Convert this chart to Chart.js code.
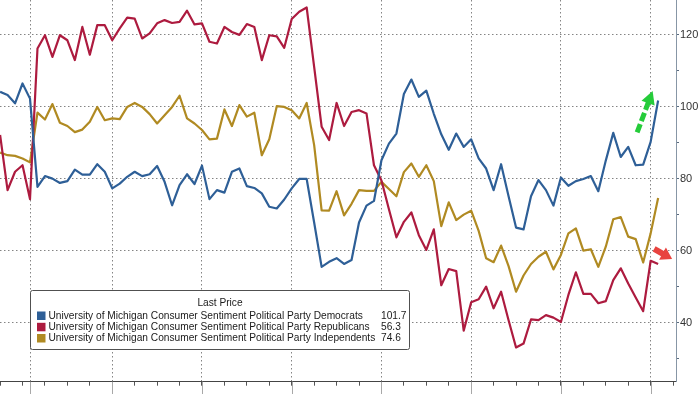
<!DOCTYPE html>
<html>
<head>
<meta charset="utf-8">
<script src="https://cdn.jsdelivr.net/npm/chart.js@4.4.1/dist/chart.umd.min.js"></script>
<style>
  html, body { margin: 0; padding: 0; background: #fff; }
  #wrap { width: 700px; height: 394px; }
</style>
</head>
<body>
<div id="wrap"><canvas id="chart" width="700" height="394"></canvas></div>
<script>
// monthly readings, index 0 = first month on the chart
const democrats = [
  104.1, 103.2, 100.9, 106.4, 102.2, 77.7, 80.7, 80.0, 78.8, 79.3,
  82.5, 81.1, 81.1, 84.0, 81.9, 77.3, 78.6, 80.5, 81.9, 80.7,
  81.2, 83.5, 79.1, 72.6, 78.2, 81.2, 78.5, 83.6, 74.3, 76.8,
  76.1, 81.9, 82.8, 77.9, 77.4, 75.9, 72.2, 71.7, 74.2, 77.3,
  79.9, 79.9, 67.8, 55.5, 56.9, 57.9, 56.3, 57.4, 67.8, 72.5,
  73.8, 85.1, 89.7, 92.5, 103.5, 107.5, 102.7, 104.4, 98.0, 92.3,
  88.0, 92.5, 88.8, 90.9, 85.6, 82.8, 76.8, 84.0, 75.1, 66.4,
  65.9, 75.1, 79.6, 76.8, 72.5, 80.3, 78.0, 79.3, 79.9, 80.7,
  76.5, 85.0, 92.7, 86.0, 88.8, 83.7, 83.9, 90.2, 101.7
];
const republicans = [
  92.1, 76.8, 81.9, 83.7, 74.3, 116.1, 119.8, 113.8, 119.8, 118.4,
  112.9, 122.1, 114.4, 122.6, 122.6, 118.4, 121.7, 124.7, 124.4, 118.9,
  120.3, 123.1, 124.0, 123.2, 123.5, 126.6, 122.8, 123.1, 118.0, 117.5,
  122.1, 120.7, 119.9, 122.9, 122.1, 112.9, 119.8, 119.5, 116.3, 124.3,
  126.3, 127.5, 111.0, 94.4, 90.7, 101.0, 94.6, 98.5, 99.0, 98.1,
  83.7, 79.5, 71.5, 63.7, 68.0, 70.6, 64.3, 60.2, 65.9, 50.4,
  54.9, 54.3, 37.8, 45.7, 46.5, 50.0, 44.0, 48.6, 40.7, 33.1,
  34.2, 40.9, 40.7, 42.1, 41.4, 40.2, 47.7, 54.0, 48.0, 48.0,
  45.4, 46.0, 51.8, 55.1, 50.9, 47.0, 43.2, 57.2, 56.3
];
const independents = [
  87.2, 86.5, 86.3, 85.6, 84.5, 98.3, 96.4, 100.7, 95.5, 94.6,
  92.9, 93.6, 95.8, 99.9, 96.2, 96.7, 96.5, 99.9, 101.0, 99.9,
  97.9, 95.3, 97.6, 99.9, 103.0, 96.7, 95.3, 93.5, 90.9, 91.1,
  99.2, 94.6, 100.4, 97.2, 98.3, 86.5, 90.9, 100.1, 99.9, 99.0,
  96.7, 101.0, 89.3, 71.2, 71.1, 76.5, 69.8, 73.0, 76.8, 76.6,
  76.6, 79.1, 77.1, 75.1, 81.8, 84.2, 80.5, 83.7, 79.3, 66.8,
  73.4, 68.5, 70.0, 71.1, 65.5, 57.9, 56.8, 61.4, 55.7, 48.6,
  53.1, 56.3, 58.3, 59.7, 54.8, 58.8, 64.8, 66.2, 60.0, 60.4,
  55.5, 61.1, 68.7, 69.3, 63.9, 63.2, 56.7, 64.8, 74.6
];

const seriesNames = [
  "University of Michigan Consumer Sentiment Political Party Democrats",
  "University of Michigan Consumer Sentiment Political Party Republicans",
  "University of Michigan Consumer Sentiment Political Party Independents"
];
const lastPrices = ["101.7", "56.3", "74.6"];
const legendTitle = "Last Price";

// x positions (month index) of the yearly separators and quarter ticks
const yearLineIdx = [4, 15, 27, 39, 51, 63, 75, 87];
const quarterIdx = [0, 3, 6, 9, 12, 15, 18, 21, 24, 27, 30, 33, 36, 39, 42, 45,
  48, 51, 54, 57, 60, 63, 66, 69, 72, 75, 78, 81, 84, 87, 90];
const yTicks = [30, 40, 50, 60, 70, 80, 90, 100, 110, 120];
const yLabelled = [40, 60, 80, 100, 120];

const BLUE = '#2e5f97';
const RED = '#ad1b3f';
const GOLD = '#b08a22';
const GRID = 'rgba(110,110,110,0.85)';
const FONT = '"Liberation Sans", Arial, sans-serif';

function toPoints(arr) {
  return arr.map((v, i) => ({ x: i, y: v }));
}

function drawArrow(ctx, x0, y0, x1, y1, color, shaftW, headL, headW, dash) {
  const dx = x1 - x0, dy = y1 - y0;
  const len = Math.hypot(dx, dy);
  const ux = dx / len, uy = dy / len;
  const bx = x1 - ux * headL, by = y1 - uy * headL;
  ctx.save();
  ctx.strokeStyle = color;
  ctx.fillStyle = color;
  ctx.lineWidth = shaftW;
  ctx.setLineDash(dash || []);
  ctx.beginPath();
  ctx.moveTo(x0, y0);
  ctx.lineTo(bx + ux * 1, by + uy * 1);
  ctx.stroke();
  ctx.setLineDash([]);
  ctx.beginPath();
  ctx.moveTo(x1, y1);
  ctx.lineTo(bx - uy * headW / 2, by + ux * headW / 2);
  ctx.lineTo(bx + uy * headW / 2, by - ux * headW / 2);
  ctx.closePath();
  ctx.fill();
  ctx.restore();
}

const overlay = {
  id: 'overlay',
  afterDraw(chart) {
    const { ctx, chartArea: area, scales: { x, y } } = chart;

    // long year separators under the axis
    ctx.save();
    ctx.strokeStyle = '#a8a8a8';
    ctx.lineWidth = 1;
    yearLineIdx.forEach(i => {
      const px = Math.round(x.getPixelForValue(i)) + 0.5;
      ctx.beginPath();
      ctx.moveTo(px, area.bottom);
      ctx.lineTo(px, chart.height);
      ctx.stroke();
    });
    ctx.restore();

    // arrows next to the last points
    const last = democrats.length - 1;
    const gx = x.getPixelForValue(last), gy = y.getPixelForValue(democrats[last]);
    drawArrow(ctx, gx - 21, gy + 32, gx - 5.5, gy - 9.5, '#25cc3a', 5, 13, 14, [9, 3]);
    const rx = x.getPixelForValue(last), ry = y.getPixelForValue(republicans[last]);
    drawArrow(ctx, rx - 4, ry - 15, rx + 14, ry - 5, '#e8433f', 6, 11, 14);

    // legend box
    const L = 30.5, T = 290.5, R = 409.5, B = 349.5;
    ctx.save();
    ctx.fillStyle = '#ffffff';
    ctx.strokeStyle = '#505050';
    ctx.lineWidth = 1;
    ctx.beginPath();
    ctx.roundRect(L, T, R - L, B - T, 2);
    ctx.fill();
    ctx.stroke();

    ctx.font = '10px ' + FONT;
    let fs = 10 * 327 / ctx.measureText(seriesNames[2]).width;
    ctx.font = fs.toFixed(2) + 'px ' + FONT;
    ctx.fillStyle = '#1a1a1a';
    ctx.textBaseline = 'middle';
    ctx.textAlign = 'center';
    ctx.fillText(legendTitle, (L + R) / 2, 303.5);
    ctx.textAlign = 'left';
    const rowsY = [316, 327.3, 338.5];
    const cols = [BLUE, RED, GOLD];
    rowsY.forEach((ry2, k) => {
      ctx.fillStyle = cols[k];
      ctx.fillRect(37, ry2 - 4.5, 8.5, 8.5);
      ctx.fillStyle = '#1a1a1a';
      ctx.fillText(seriesNames[k], 48.5, ry2);
      ctx.fillText(lastPrices[k], 381, ry2);
    });
    ctx.restore();
  }
};

const lineStyle = { borderWidth: 2.2, pointRadius: 0, tension: 0, borderJoinStyle: 'round', fill: false };

new Chart(document.getElementById('chart'), {
  type: 'line',
  data: {
    datasets: [
      Object.assign({ label: seriesNames[0], data: toPoints(democrats), borderColor: BLUE }, lineStyle),
      Object.assign({ label: seriesNames[1], data: toPoints(republicans), borderColor: RED }, lineStyle),
      Object.assign({ label: seriesNames[2], data: toPoints(independents), borderColor: GOLD }, lineStyle)
    ]
  },
  options: {
    responsive: false,
    animation: false,
    layout: { padding: 0 },
    plugins: { legend: { display: false }, tooltip: { enabled: false } },
    scales: {
      x: {
        type: 'linear',
        min: -0.012,
        max: 90.39,
        afterBuildTicks: (scale) => {
          const vals = Array.from(new Set(quarterIdx.concat(yearLineIdx))).sort((a, b) => a - b);
          scale.ticks = vals.map(v => ({ value: v }));
        },
        afterFit: (scale) => {
          scale.height = 12.3;
          scale.paddingLeft = 0; scale.paddingRight = 0;
        },
        ticks: { display: false },
        grid: {
          color: (c) => yearLineIdx.includes(c.tick && c.tick.value) ? GRID : 'rgba(0,0,0,0)',
          tickColor: (c) => quarterIdx.includes(c.tick && c.tick.value) ? '#555' : 'rgba(0,0,0,0)',
          tickLength: 4,
          lineWidth: 1
        },
        border: { display: true, color: '#444', width: 1, dash: [1.5, 2.5] }
      },
      y: {
        position: 'right',
        min: 23.62,
        max: 129.58,
        afterBuildTicks: (scale) => { scale.ticks = yTicks.map(v => ({ value: v })); },
        afterFit: (scale) => {
          scale.width = 24;
          scale.paddingTop = 0; scale.paddingBottom = 0;
        },
        ticks: {
          autoSkip: false,
          padding: 1,
          color: '#333',
          font: { family: FONT, size: 11 },
          callback: (v) => yLabelled.includes(v) ? String(v) : ''
        },
        grid: {
          color: (c) => yLabelled.includes(c.tick && c.tick.value) ? GRID : 'rgba(0,0,0,0)',
          tickColor: '#5a6b7e',
          tickLength: 3,
          lineWidth: 1
        },
        border: { display: true, color: '#8796a6', width: 1, dash: [1.5, 2.5] }
      }
    }
  },
  plugins: [overlay]
});
</script>
</body>
</html>
